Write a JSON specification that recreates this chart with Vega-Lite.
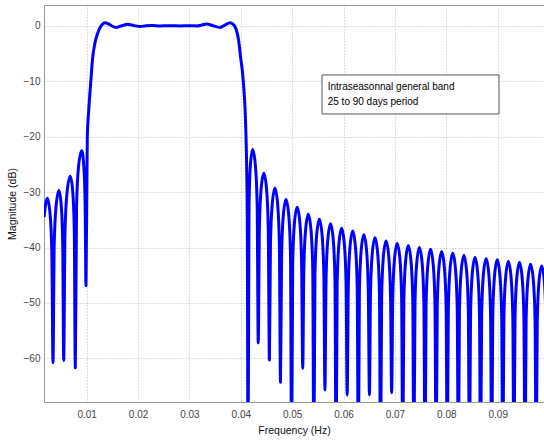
{
  "$schema": "https://vega.github.io/schema/vega-lite/v6.json",
  "width": 500,
  "height": 397,
  "autosize": {"type": "none"},
  "padding": {"left": 44, "top": 5, "right": 0, "bottom": 39},
  "background": "white",
  "config": {"view": {"stroke": null}, "font": "Liberation Sans"},
  "datasets": {
    "curve": [
      {"f":0.00170,"db":-34.5},{"f":0.00198,"db":-32.3},{"f":0.00233,"db":-31.1},{"f":0.00289,"db":-34.1},{"f":0.00322,"db":-41.1},{"f":0.00344,"db":-60.8},
      {"f":0.00367,"db":-39.7},{"f":0.00402,"db":-32.7},{"f":0.00461,"db":-29.7},{"f":0.00507,"db":-32.7},{"f":0.00534,"db":-39.7},{"f":0.00552,"db":-60.4},
      {"f":0.00578,"db":-37.1},{"f":0.00617,"db":-30.1},{"f":0.00681,"db":-27.1},{"f":0.00730,"db":-30.1},{"f":0.00759,"db":-37.1},{"f":0.00778,"db":-61.7},
      {"f":0.00803,"db":-32.5},{"f":0.00840,"db":-25.5},{"f":0.00903,"db":-22.5},{"f":0.00945,"db":-25.5},{"f":0.00970,"db":-32.5},{"f":0.00986,"db":-46.9},
      {"f":0.01006,"db":-26},{"f":0.01012,"db":-20},{"f":0.01041,"db":-15},{"f":0.01080,"db":-10},{"f":0.01113,"db":-6},{"f":0.01162,"db":-3},{"f":0.01226,"db":-1},{"f":0.01288,"db":0.1},{"f":0.01356,"db":0.6},{"f":0.01415,"db":0.45},{"f":0.01492,"db":0},{"f":0.01584,"db":-0.25},{"f":0.01687,"db":0.05},{"f":0.01798,"db":0.3},{"f":0.01911,"db":0.1},{"f":0.02038,"db":-0.1},{"f":0.02154,"db":0.05},{"f":0.02271,"db":0.1},{"f":0.02427,"db":0},{"f":0.02621,"db":0.05},{"f":0.02816,"db":0},{"f":0.03011,"db":0.05},{"f":0.03147,"db":0},{"f":0.03225,"db":0.15},{"f":0.03336,"db":0.35},{"f":0.03458,"db":0.05},{"f":0.03595,"db":-0.25},{"f":0.03692,"db":0.15},{"f":0.03789,"db":0.6},{"f":0.03848,"db":0.35},{"f":0.03906,"db":-0.5},{"f":0.03955,"db":-2.5},{"f":0.03994,"db":-5.5},{"f":0.04048,"db":-10},{"f":0.04101,"db":-20},{"f":0.04126,"db":-35},{"f":0.04140,"db":-80},
      {"f":0.04160,"db":-32.3},{"f":0.04185,"db":-25.3},{"f":0.04231,"db":-22.3},{"f":0.04285,"db":-25.3},{"f":0.04318,"db":-32.3},{"f":0.04339,"db":-57.2},
      {"f":0.04361,"db":-36.6},{"f":0.04393,"db":-29.6},{"f":0.04448,"db":-26.6},{"f":0.04502,"db":-29.6},{"f":0.04534,"db":-36.6},{"f":0.04556,"db":-60.3},
      {"f":0.04577,"db":-39.3},{"f":0.04610,"db":-32.3},{"f":0.04664,"db":-29.3},{"f":0.04718,"db":-32.3},{"f":0.04750,"db":-39.3},{"f":0.04772,"db":-64.3},
      {"f":0.04794,"db":-41.3},{"f":0.04826,"db":-34.3},{"f":0.04880,"db":-31.3},{"f":0.04934,"db":-34.3},{"f":0.04967,"db":-41.3},{"f":0.04988,"db":-80},
      {"f":0.05010,"db":-42.7},{"f":0.05042,"db":-35.7},{"f":0.05097,"db":-32.7},{"f":0.05151,"db":-35.7},{"f":0.05183,"db":-42.7},{"f":0.05205,"db":-61.8},
      {"f":0.05226,"db":-44.0},{"f":0.05259,"db":-37.0},{"f":0.05313,"db":-34.0},{"f":0.05367,"db":-37.0},{"f":0.05400,"db":-44.0},{"f":0.05421,"db":-80},
      {"f":0.05443,"db":-44.9},{"f":0.05475,"db":-37.9},{"f":0.05529,"db":-34.9},{"f":0.05583,"db":-37.9},{"f":0.05616,"db":-44.9},{"f":0.05637,"db":-65.7},
      {"f":0.05659,"db":-45.7},{"f":0.05692,"db":-38.7},{"f":0.05746,"db":-35.7},{"f":0.05800,"db":-38.7},{"f":0.05832,"db":-45.7},{"f":0.05854,"db":-80},
      {"f":0.05875,"db":-46.5},{"f":0.05908,"db":-39.5},{"f":0.05962,"db":-36.5},{"f":0.06016,"db":-39.5},{"f":0.06049,"db":-46.5},{"f":0.06070,"db":-66.6},
      {"f":0.06092,"db":-47.0},{"f":0.06124,"db":-40.0},{"f":0.06178,"db":-37.0},{"f":0.06232,"db":-40.0},{"f":0.06265,"db":-47.0},{"f":0.06287,"db":-80},
      {"f":0.06308,"db":-47.7},{"f":0.06341,"db":-40.7},{"f":0.06395,"db":-37.7},{"f":0.06449,"db":-40.7},{"f":0.06481,"db":-47.7},{"f":0.06503,"db":-66.6},
      {"f":0.06524,"db":-48.2},{"f":0.06557,"db":-41.2},{"f":0.06611,"db":-38.2},{"f":0.06665,"db":-41.2},{"f":0.06698,"db":-48.2},{"f":0.06719,"db":-80},
      {"f":0.06741,"db":-48.8},{"f":0.06773,"db":-41.8},{"f":0.06827,"db":-38.8},{"f":0.06881,"db":-41.8},{"f":0.06914,"db":-48.8},{"f":0.06936,"db":-66.2},
      {"f":0.06957,"db":-49.2},{"f":0.06990,"db":-42.2},{"f":0.07044,"db":-39.2},{"f":0.07098,"db":-42.2},{"f":0.07130,"db":-49.2},{"f":0.07152,"db":-80},
      {"f":0.07173,"db":-49.6},{"f":0.07206,"db":-42.6},{"f":0.07260,"db":-39.6},{"f":0.07314,"db":-42.6},{"f":0.07347,"db":-49.6},{"f":0.07368,"db":-80},
      {"f":0.07390,"db":-50.0},{"f":0.07422,"db":-43.0},{"f":0.07476,"db":-40.0},{"f":0.07531,"db":-43.0},{"f":0.07563,"db":-50.0},{"f":0.07585,"db":-80},
      {"f":0.07606,"db":-50.3},{"f":0.07639,"db":-43.3},{"f":0.07693,"db":-40.3},{"f":0.07747,"db":-43.3},{"f":0.07779,"db":-50.3},{"f":0.07801,"db":-80},
      {"f":0.07823,"db":-50.7},{"f":0.07855,"db":-43.7},{"f":0.07909,"db":-40.7},{"f":0.07963,"db":-43.7},{"f":0.07996,"db":-50.7},{"f":0.08017,"db":-80},
      {"f":0.08039,"db":-51.0},{"f":0.08071,"db":-44.0},{"f":0.08125,"db":-41.0},{"f":0.08180,"db":-44.0},{"f":0.08212,"db":-51.0},{"f":0.08234,"db":-80},
      {"f":0.08255,"db":-51.4},{"f":0.08288,"db":-44.4},{"f":0.08342,"db":-41.4},{"f":0.08396,"db":-44.4},{"f":0.08428,"db":-51.4},{"f":0.08450,"db":-80},
      {"f":0.08472,"db":-51.8},{"f":0.08504,"db":-44.8},{"f":0.08558,"db":-41.8},{"f":0.08612,"db":-44.8},{"f":0.08645,"db":-51.8},{"f":0.08666,"db":-80},
      {"f":0.08688,"db":-52.0},{"f":0.08720,"db":-45.0},{"f":0.08775,"db":-42.0},{"f":0.08829,"db":-45.0},{"f":0.08861,"db":-52.0},{"f":0.08883,"db":-80},
      {"f":0.08904,"db":-52.2},{"f":0.08937,"db":-45.2},{"f":0.08991,"db":-42.2},{"f":0.09045,"db":-45.2},{"f":0.09077,"db":-52.2},{"f":0.09099,"db":-80},
      {"f":0.09121,"db":-52.5},{"f":0.09153,"db":-45.5},{"f":0.09207,"db":-42.5},{"f":0.09261,"db":-45.5},{"f":0.09294,"db":-52.5},{"f":0.09315,"db":-80},
      {"f":0.09337,"db":-52.7},{"f":0.09369,"db":-45.7},{"f":0.09424,"db":-42.7},{"f":0.09478,"db":-45.7},{"f":0.09510,"db":-52.7},{"f":0.09532,"db":-80},
      {"f":0.09553,"db":-53.0},{"f":0.09586,"db":-46.0},{"f":0.09640,"db":-43.0},{"f":0.09694,"db":-46.0},{"f":0.09727,"db":-53.0},{"f":0.09748,"db":-80},
      {"f":0.09770,"db":-53.3},{"f":0.09802,"db":-46.3},{"f":0.09856,"db":-43.3},{"f":0.09910,"db":-46.3},{"f":0.09943,"db":-53.3}
    ],
    "box": [{"x1":0.05580,"x2":0.09025,"y1":-8.84,"y2":-15.88}],
    "notes": [
      {"x":0.05691,"y":-11.07,"label":"Intraseasonnal general band"},
      {"x":0.05691,"y":-13.66,"label":"25 to 90 days period"}
    ]
  },
  "resolve": {"axis": {"x": "independent"}},
  "layer": [
    {
      "data": {"name": "curve"},
      "mark": {"type": "line", "color": "#0000ff", "strokeWidth": 3, "clip": true, "strokeJoin": "round", "interpolate": "monotone"},
      "encoding": {
        "x": {
          "field": "f", "type": "quantitative",
          "scale": {"domain": [0.00169, 0.09901], "nice": false, "zero": false},
          "axis": {
            "orient": "bottom",
            "values": [0.01,0.02,0.03,0.04,0.05,0.06,0.07,0.08,0.09],
            "format": ".2f",
            "grid": true, "gridDash": [1, 2], "gridColor": "#bdbdbd",
            "tickSize": 0, "labelPadding": 7,
            "labelFontSize": 10, "labelColor": "#444",
            "domainColor": "#999",
            "title": "Frequency (Hz)", "titleFontSize": 10.5, "titleFontWeight": "normal",
            "titleColor": "#111", "titlePadding": 6
          }
        },
        "y": {
          "field": "db", "type": "quantitative",
          "scale": {"domain": [-67.87, 3.79], "nice": false, "zero": false},
          "axis": {
            "values": [-60,-50,-40,-30,-20,-10,0],
            "grid": true, "gridDash": [1, 2], "gridColor": "#bdbdbd",
            "tickSize": 0, "labelPadding": 4,
            "labelFontSize": 10, "labelColor": "#444",
            "domainColor": "#999",
            "title": "Magnitude (dB)", "titleFontSize": 10.5, "titleFontWeight": "normal",
            "titleColor": "#111", "titlePadding": 6
          }
        }
      }
    },
    {
      "data": {"name": "box"},
      "mark": {"type": "rect", "fill": "white", "stroke": "#555", "strokeWidth": 1},
      "encoding": {
        "x": {"field": "x1", "type": "quantitative", "axis": {"orient": "top", "labels": false, "ticks": false, "grid": false, "title": null, "domainColor": "#999"}},
        "x2": {"field": "x2"},
        "y": {"field": "y1", "type": "quantitative"},
        "y2": {"field": "y2"}
      }
    },
    {
      "data": {"name": "notes"},
      "mark": {"type": "text", "align": "left", "baseline": "middle", "fontSize": 10, "font": "Liberation Sans", "color": "black"},
      "encoding": {
        "x": {"field": "x", "type": "quantitative", "axis": null},
        "y": {"field": "y", "type": "quantitative"},
        "text": {"field": "label"}
      }
    }
  ]
}
